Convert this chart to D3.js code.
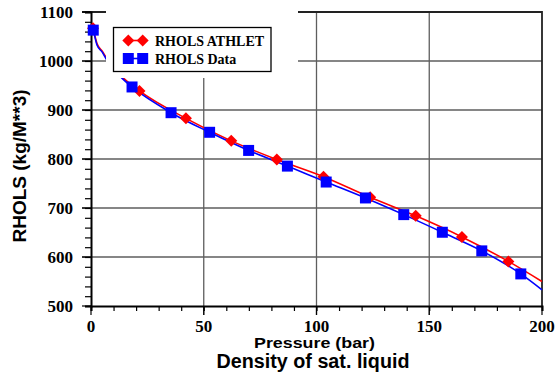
<!DOCTYPE html>
<html>
<head>
<meta charset="utf-8">
<script src="https://d3js.org/d3.v7.min.js"></script>
<style>
    body { margin: 0; background: #fff; }
    .tick-label { font-family: "Liberation Serif", "Times New Roman", serif; font-weight: bold; font-size: 17px; }
    .title { font-family: "Liberation Sans", Arial, sans-serif; font-weight: bold; }
    .legend-text { font-family: "Liberation Serif", "Times New Roman", serif; font-weight: bold; font-size: 14px; }
</style>
</head>
<body>
<svg id="chart" width="560" height="378"></svg>
<script>
// Pressure (bar) / density (kg/m3)
var athletP   = [0.9, 21.5, 42.1, 62.2, 82.4, 103.1, 123.8, 144.0, 164.5, 185.1];
var athletRho = [1067, 939, 883, 837, 799, 764, 722, 684, 641, 591];

var dataP   = [1.0, 18.2, 35.5, 52.6, 69.9, 87.1, 104.3, 121.7, 138.7, 155.8, 173.3, 190.6];
var dataRho = [1063, 947, 894.5, 854.5, 817.5, 785.5, 753, 720.5, 686.5, 650.5, 612.5, 565.5];

// extra points of the fitted curves (ends and steep start)
var athletCurveP   = [0.4, 2.7, 5.0, 7.0, 13.7, 200];
var athletCurveRho = [1076, 1035, 1020, 1005, 968, 550];
var dataCurveP     = [0.4, 2.7, 5.0, 7.0, 13.7, 200];
var dataCurveRho   = [1072, 1032, 1018, 1002, 965, 533];

var xTicks = [0, 50, 100, 150, 200];
var yTicks = [500, 600, 700, 800, 900, 1000, 1100];

var svg = d3.select("#chart");

var xScale = d3.scaleLinear().domain([0, 200]).range([91, 542]);
var yScale = d3.scaleLinear().domain([500, 1100]).range([306, 12]);

function zipPts(p, r) {
    return p.map(function (d, i) { return [d, r[i]]; });
}

function curvePts(p, r, cp, cr) {
    return zipPts(p, r).concat(zipPts(cp, cr)).sort(function (a, b) { return a[0] - b[0]; });
}

// grid lines
var grid = svg.append("g");
grid.selectAll(".vgrid")
    .data(xTicks.slice(1, -1))
    .enter().append("line")
    .attr("x1", function (d) { return xScale(d); })
    .attr("x2", function (d) { return xScale(d); })
    .attr("y1", yScale(1100))
    .attr("y2", yScale(500) + 9)
    .attr("stroke", "#5e5e5e")
    .attr("stroke-width", 1.3);
grid.selectAll(".hgrid")
    .data(yTicks.slice(1, -1))
    .enter().append("line")
    .attr("x1", xScale(0) - 9)
    .attr("x2", xScale(200))
    .attr("y1", function (d) { return yScale(d); })
    .attr("y2", function (d) { return yScale(d); })
    .attr("stroke", "#5e5e5e")
    .attr("stroke-width", 1.3);

// frame (top and right)
svg.append("path")
    .attr("d", "M" + (xScale(0) - 9) + "," + yScale(1100) + "H" + xScale(200) + "V" + yScale(500))
    .attr("fill", "none")
    .attr("stroke", "#222")
    .attr("stroke-width", 1.8);

// axes
var yAxis = d3.axisLeft(yScale).tickValues(d3.range(500, 1101, 20)).tickSize(6).tickFormat("");
svg.append("g").attr("transform", "translate(" + xScale(0) + ",0)").call(yAxis);
var xAxis = d3.axisBottom(xScale).tickValues(d3.range(0, 201, 10)).tickSize(5).tickFormat("");
svg.append("g").attr("transform", "translate(0," + yScale(500) + ")").call(xAxis);
svg.selectAll(".domain").attr("stroke", "#000").attr("stroke-width", 2);
svg.selectAll(".tick line").attr("stroke", "#000").attr("stroke-width", 1.2);

// major ticks are longer
svg.append("g").selectAll("line")
    .data(yTicks)
    .enter().append("line")
    .attr("x1", xScale(0) - 9).attr("x2", xScale(0))
    .attr("y1", function (d) { return yScale(d); })
    .attr("y2", function (d) { return yScale(d); })
    .attr("stroke", "#000").attr("stroke-width", 1.2);
svg.append("g").selectAll("line")
    .data(xTicks)
    .enter().append("line")
    .attr("x1", function (d) { return xScale(d); })
    .attr("x2", function (d) { return xScale(d); })
    .attr("y1", yScale(500)).attr("y2", yScale(500) + 9)
    .attr("stroke", "#000").attr("stroke-width", 1.2);

// tick labels
svg.append("g").selectAll("text")
    .data(yTicks)
    .enter().append("text")
    .attr("class", "tick-label")
    .attr("x", 73)
    .attr("y", function (d) { return yScale(d) + 6; })
    .attr("text-anchor", "end")
    .text(function (d) { return d; });
svg.append("g").selectAll("text")
    .data(xTicks)
    .enter().append("text")
    .attr("class", "tick-label")
    .attr("x", function (d) { return xScale(d); })
    .attr("y", 331.5)
    .attr("text-anchor", "middle")
    .text(function (d) { return d; });

// curves
var line = d3.line()
    .x(function (d) { return xScale(d[0]); })
    .y(function (d) { return yScale(d[1]); })
    .curve(d3.curveMonotoneX);

svg.append("path")
    .datum(curvePts(athletP, athletRho, athletCurveP, athletCurveRho))
    .attr("d", line)
    .attr("fill", "none")
    .attr("stroke", "#ff0000")
    .attr("stroke-width", 1.6);
svg.append("path")
    .datum(curvePts(dataP, dataRho, dataCurveP, dataCurveRho))
    .attr("d", line)
    .attr("fill", "none")
    .attr("stroke", "#0000ff")
    .attr("stroke-width", 1.6);

var diamond = d3.symbol().type(d3.symbolSquare).size(72);
var square = d3.symbol().type(d3.symbolSquare).size(121);

svg.append("g").selectAll("path")
    .data(zipPts(athletP, athletRho))
    .enter().append("path")
    .attr("d", diamond)
    .attr("transform", function (d) { return "translate(" + xScale(d[0]) + "," + yScale(d[1]) + ") rotate(45)"; })
    .attr("fill", "#ff0000");
svg.append("g").selectAll("path")
    .data(zipPts(dataP, dataRho))
    .enter().append("path")
    .attr("d", square)
    .attr("transform", function (d) { return "translate(" + xScale(d[0]) + "," + yScale(d[1]) + ")"; })
    .attr("fill", "#0000ff");

// legend (white area hides the grid behind it)
var legend = svg.append("g");
legend.append("rect")
    .attr("x", 106).attr("y", 8).attr("width", 192).attr("height", 70)
    .attr("fill", "#fff");
legend.append("rect")
    .attr("x", 113.5).attr("y", 27.5).attr("width", 157.5).attr("height", 44)
    .attr("fill", "none").attr("stroke", "#000").attr("stroke-width", 1.3);

var legendItems = [
    { name: "RHOLS ATHLET", color: "#ff0000", sym: diamond, rot: 45, y: 40.5 },
    { name: "RHOLS Data", color: "#0000ff", sym: square, rot: 0, y: 58.5 }
];
legendItems.forEach(function (d) {
    legend.append("line")
        .attr("x1", 124).attr("x2", 147)
        .attr("y1", d.y).attr("y2", d.y)
        .attr("stroke", d.color).attr("stroke-width", 1.6);
    [128.3, 142.7].forEach(function (mx) {
        legend.append("path")
            .attr("d", d.sym)
            .attr("transform", "translate(" + mx + "," + d.y + ") rotate(" + d.rot + ")")
            .attr("fill", d.color);
    });
    legend.append("text")
        .attr("class", "legend-text")
        .attr("x", 155)
        .attr("y", d.y + 5)
        .text(d.name);
});

// axis titles
svg.append("text")
    .attr("class", "title")
    .attr("x", 314.5).attr("y", 347.7)
    .attr("text-anchor", "middle")
    .attr("font-size", 15)
    .attr("textLength", 121)
    .attr("lengthAdjust", "spacingAndGlyphs")
    .text("Pressure (bar)");
svg.append("text")
    .attr("class", "title")
    .attr("x", 313).attr("y", 367.7)
    .attr("text-anchor", "middle")
    .attr("font-size", 19.5)
    .attr("textLength", 193)
    .attr("lengthAdjust", "spacingAndGlyphs")
    .text("Density of sat. liquid");
svg.append("text")
    .attr("class", "title")
    .attr("transform", "translate(26,166) rotate(-90)")
    .attr("text-anchor", "middle")
    .attr("font-size", 19)
    .text("RHOLS (kg/M**3)");
</script>
</body>
</html>
